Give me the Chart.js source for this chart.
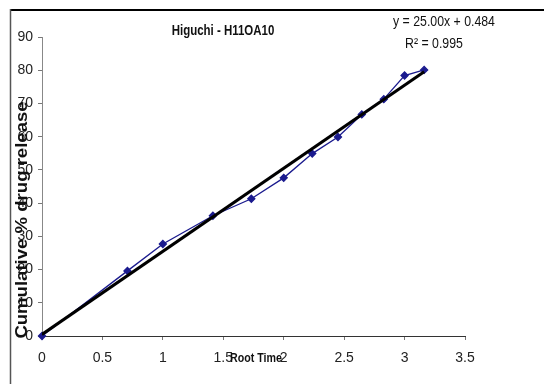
<!DOCTYPE html>
<html>
<head>
<meta charset="utf-8">
<script src="https://cdn.jsdelivr.net/npm/chart.js@4.4.1/dist/chart.umd.min.js"></script>
<style>
html,body{margin:0;padding:0;background:#fff;}
#wrap{width:544px;height:384px;position:relative;}
</style>
</head>
<body>
<div id="wrap"><canvas id="c" width="544" height="384"></canvas></div>
<script>
// ---- data ----
const rootTime = [0, 0.707, 1, 1.414, 1.732, 2, 2.236, 2.449, 2.646, 2.828, 3, 3.162];
const release  = [0, 19.6, 27.7, 36.2, 41.3, 47.6, 54.9, 59.9, 66.7, 71.3, 78.4, 80.1];
const trendSlope = 25.00;
const trendIntercept = 0.484;
const rSquared = 0.995;
const xTicks = [0, 0.5, 1, 1.5, 2, 2.5, 3, 3.5];
const yTicks = [0, 10, 20, 30, 40, 50, 60, 70, 80, 90];
const chartTitle = 'Higuchi - H11OA10';
const xTitle = 'Root Time';
const yTitle = 'Cumulative % drug release';
const eqText = 'y = ' + trendSlope.toFixed(2) + 'x + ' + trendIntercept.toFixed(3);
const r2Text = 'R\u00B2 = ' + rSquared.toFixed(3);

const FONT = "'Liberation Sans Narrow', 'Liberation Sans', Arial, sans-serif";
const CONDENSE = 0.82;

const seriesData = rootTime.map((x, i) => ({x: x, y: release[i]}));
const xEnd = rootTime[rootTime.length - 1];
const trendData = [0, xEnd].map(x => ({x: x, y: trendSlope * x + trendIntercept}));

function narrowText(ctx, text, x, y, font) {
  ctx.save();
  ctx.translate(x, y);
  ctx.scale(CONDENSE, 1);
  ctx.font = font;
  ctx.fillText(text, 0, 0);
  ctx.restore();
}

const decor = {
  id: 'decor',
  beforeDraw(chart) {
    const ctx = chart.ctx;
    ctx.save();
    ctx.fillStyle = '#fff';
    ctx.fillRect(0, 0, chart.width, chart.height);
    ctx.strokeStyle = '#000';
    ctx.lineWidth = 2;
    ctx.beginPath();
    ctx.moveTo(10, 10); ctx.lineTo(544, 10);
    ctx.stroke();
    ctx.strokeStyle = '#555';
    ctx.lineWidth = 1.5;
    ctx.beginPath();
    ctx.moveTo(10.5, 9); ctx.lineTo(10.5, 384);
    ctx.stroke();
    ctx.restore();
  },
  afterDraw(chart) {
    const ctx = chart.ctx;
    ctx.save();
    ctx.fillStyle = '#111';
    ctx.textAlign = 'center';
    ctx.textBaseline = 'middle';
    narrowText(ctx, chartTitle, 223, 31, 'bold 14px ' + FONT);
    narrowText(ctx, eqText, 444, 22, '15px ' + FONT);
    narrowText(ctx, r2Text, 434, 44, '15px ' + FONT);
    narrowText(ctx, xTitle, 256, 358, 'bold 13px ' + FONT);
    ctx.save();
    ctx.translate(23, 220);
    ctx.rotate(-Math.PI / 2);
    ctx.scale(1.16, 1);
    ctx.font = 'bold 16px ' + FONT;
    ctx.fillText(yTitle, 0, 0);
    ctx.restore();
    ctx.restore();
  }
};

new Chart(document.getElementById('c'), {
  type: 'scatter',
  data: {
    datasets: [
      {
        label: 'Trend',
        data: trendData,
        showLine: true,
        borderColor: '#000',
        borderWidth: 3,
        pointRadius: 0,
        order: 0
      },
      {
        label: 'Release',
        data: seriesData,
        showLine: true,
        borderColor: '#1a1a8e',
        borderWidth: 1.3,
        pointStyle: 'rectRot',
        pointRadius: 3.5,
        pointBackgroundColor: '#1a1a8e',
        pointBorderColor: '#1a1a8e',
        clip: false,
        order: 1
      }
    ]
  },
  options: {
    responsive: false,
    animation: false,
    layout: {padding: {left: 10, top: 37, right: 79, bottom: 0}},
    plugins: {legend: {display: false}, tooltip: {enabled: false}, title: {display: false}},
    scales: {
      x: {
        type: 'linear',
        min: 0, max: 3.5,
        afterBuildTicks(s) { s.ticks = xTicks.map(v => ({value: v})); },
        afterFit(s) { s.height = 48; },
        grid: {drawOnChartArea: false, drawTicks: true, tickLength: 4, color: '#777'},
        border: {display: true, color: '#333', width: 1},
        ticks: {font: {family: FONT, size: 14}, color: '#222', padding: 10, maxRotation: 0,
                callback: v => String(v)}
      },
      y: {
        type: 'linear',
        min: 0, max: 90,
        afterBuildTicks(s) { s.ticks = yTicks.map(v => ({value: v})); },
        afterFit(s) { s.width = 32; },
        grid: {drawOnChartArea: false, drawTicks: true, tickLength: 4, color: '#777'},
        border: {display: true, color: '#888', width: 1},
        ticks: {font: {family: FONT, size: 14}, color: '#222', padding: 5,
                callback: v => String(v)}
      }
    }
  },
  plugins: [decor]
});
</script>
</body>
</html>
